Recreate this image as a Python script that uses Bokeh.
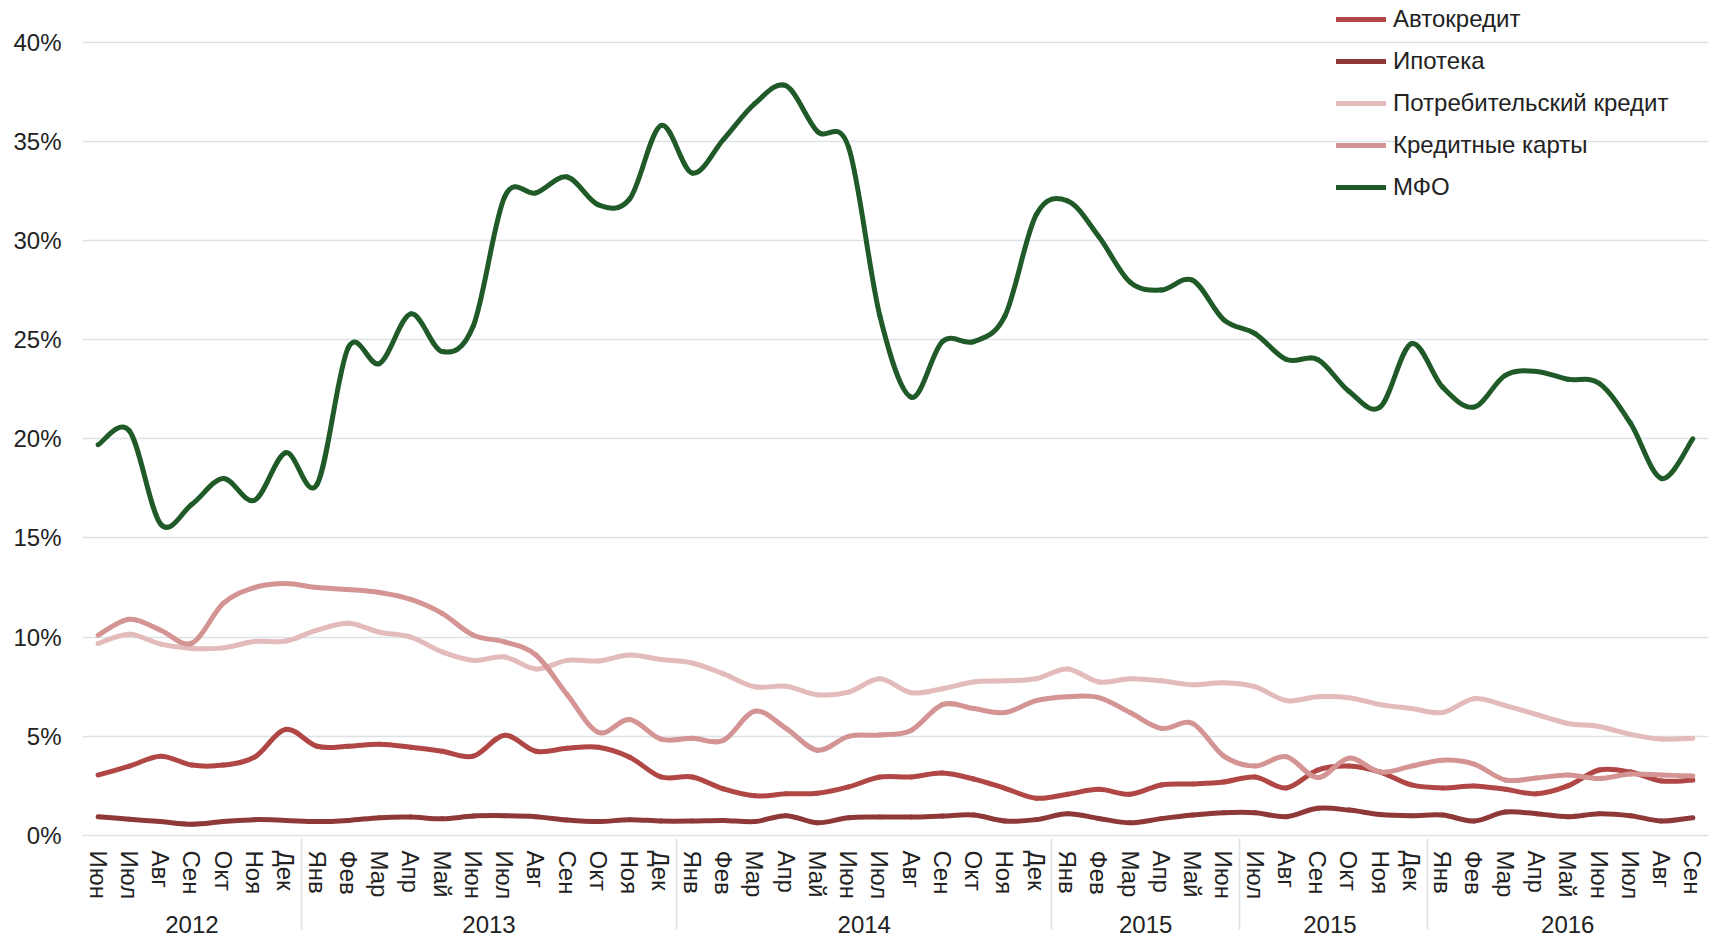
from bokeh.plotting import figure
from bokeh.models import (FactorRange, ColumnDataSource, Legend, LegendItem,
                          FixedTicker, PrintfTickFormatter, Range1d)
from bokeh.embed import file_html
from bokeh.resources import INLINE

# ---------------- data ----------------
year_groups = ["2012", "2013", "2014", "2015", "2015 ", "2016"]
months_by_group = [
    ["Июн", "Июл", "Авг", "Сен", "Окт", "Ноя", "Дек"],
    ["Янв", "Фев", "Мар", "Апр", "Май", "Июн", "Июл", "Авг", "Сен", "Окт", "Ноя", "Дек"],
    ["Янв", "Фев", "Мар", "Апр", "Май", "Июн", "Июл", "Авг", "Сен", "Окт", "Ноя", "Дек"],
    ["Янв", "Фев", "Мар", "Апр", "Май", "Июн"],
    ["Июл", "Авг", "Сен", "Окт", "Ноя", "Дек"],
    ["Янв", "Фев", "Мар", "Апр", "Май", "Июн", "Июл", "Авг", "Сен"],
]
y_ticks = [0, 5, 10, 15, 20, 25, 30, 35, 40]

series_names = ["Автокредит", "Ипотека", "Потребительский кредит", "Кредитные карты", "МФО"]

avtokredit = [3.05, 3.5, 4.0, 3.55, 3.55, 3.95, 5.35, 4.5, 4.5, 4.6,
              4.45, 4.25, 4.0, 5.05, 4.25, 4.4, 4.45, 3.95, 2.95, 2.95,
              2.35, 2.0, 2.1, 2.13, 2.45, 2.95, 2.95, 3.15, 2.85, 2.38,
              1.88, 2.08, 2.33, 2.08, 2.55, 2.6, 2.7, 2.95, 2.4, 3.3,
              3.5, 3.2, 2.55, 2.4, 2.5, 2.33, 2.1, 2.5, 3.3, 3.2,
              2.75, 2.8]
ipoteka = [0.95, 0.82, 0.7, 0.57, 0.7, 0.8, 0.76, 0.7, 0.76, 0.9,
           0.93, 0.84, 0.98, 1.0, 0.95, 0.78, 0.7, 0.8, 0.73, 0.73,
           0.76, 0.7, 1.0, 0.64, 0.9, 0.93, 0.93, 0.98, 1.03, 0.73,
           0.8, 1.1, 0.86, 0.64, 0.85, 1.03, 1.15, 1.15, 0.95, 1.37,
           1.28, 1.06, 1.0, 1.03, 0.73, 1.18, 1.1, 0.95, 1.1, 1.0,
           0.73, 0.9]
potreb = [9.68, 10.15, 9.65, 9.43, 9.46, 9.78, 9.8, 10.35, 10.7, 10.25,
          10.0, 9.26, 8.83, 9.0, 8.4, 8.83, 8.8, 9.1, 8.87, 8.7,
          8.15, 7.5, 7.53, 7.1, 7.23, 7.9, 7.2, 7.4, 7.74, 7.8,
          7.9, 8.4, 7.74, 7.9, 7.8, 7.6, 7.7, 7.5, 6.8, 7.0,
          6.95, 6.6, 6.4, 6.2, 6.9, 6.55, 6.1, 5.65, 5.5, 5.1,
          4.86, 4.9]
karty = [10.1, 10.9, 10.35, 9.7, 11.7, 12.5, 12.7, 12.5, 12.4, 12.25,
         11.9, 11.2, 10.1, 9.76, 9.1, 7.1, 5.2, 5.85, 4.86, 4.9,
         4.8, 6.27, 5.4, 4.3, 5.0, 5.07, 5.3, 6.6, 6.4, 6.2,
         6.8, 7.0, 6.95, 6.2, 5.4, 5.65, 4.0, 3.5, 3.97, 2.92,
         3.9, 3.2, 3.5, 3.8, 3.6, 2.8, 2.9, 3.05, 2.87, 3.1,
         3.05, 3.0]
mfo = [19.7, 20.4, 15.7, 16.7, 18.0, 16.9, 19.3, 17.7, 24.6, 23.8,
       26.3, 24.4, 25.7, 32.2, 32.4, 33.2, 31.8, 32.1, 35.8, 33.4,
       35.1, 36.9, 37.8, 35.5, 34.7, 26.2, 22.1, 24.9, 24.9, 26.2,
       31.3, 32.0, 30.2, 27.9, 27.5, 28.0, 26.0, 25.3, 24.0, 24.0,
       22.4, 21.6, 24.8, 22.6, 21.6, 23.2, 23.4, 23.0, 22.8, 20.8,
       18.0, 20.0]

# ---------------- styles ----------------
colors = ["#B04745", "#8F3838", "#E3BBBB", "#D49494", "#1F5A28"]
FONT = "Liberation Sans"
TXT = "#222222"
GRID = "#DEE2E7"
FS = "24px"

factors = [(g, m) for g, ms in zip(year_groups, months_by_group) for m in ms]

W, H = 1716, 944
BOTTOM_BORDER = 109
FRAME_BOTTOM = H - BOTTOM_BORDER
p = figure(width=W, height=H, output_backend="svg", toolbar_location=None,
           x_range=FactorRange(factors=factors, factor_padding=0, group_padding=0,
                               subgroup_padding=0, range_padding=0),
           y_range=Range1d(0, 42.1),
           min_border_left=82, min_border_right=8, min_border_top=0,
           min_border_bottom=BOTTOM_BORDER)
p.outline_line_color = None
p.background_fill_color = "white"

p.xgrid.grid_line_color = None
p.ygrid.grid_line_color = GRID
p.ygrid.grid_line_width = 1.6

p.yaxis.ticker = FixedTicker(ticks=y_ticks)
p.yaxis.formatter = PrintfTickFormatter(format="%d%%")
p.yaxis.axis_line_color = None
p.yaxis.major_tick_line_color = None
p.yaxis.minor_tick_line_color = None
p.yaxis.major_label_standoff = 15
p.yaxis.major_label_text_font = FONT
p.yaxis.major_label_text_font_size = FS
p.yaxis.major_label_text_color = TXT

p.xaxis.axis_line_color = GRID
p.xaxis.axis_line_width = 1.6
p.xaxis.major_tick_line_color = None
p.xaxis.major_label_orientation = "vertical"
p.xaxis.major_label_standoff = 9
p.xaxis.major_label_text_font = FONT
p.xaxis.major_label_text_font_size = FS
p.xaxis.major_label_text_color = TXT
p.xaxis.group_text_font = FONT
p.xaxis.group_text_font_size = FS
p.xaxis.group_text_font_style = "normal"
p.xaxis.group_text_color = TXT
p.xaxis.separator_line_color = GRID
p.xaxis.separator_line_width = 1.6


def smooth_source(vals):
    n = len(vals)
    tang = []
    for i in range(n):
        a = max(i - 1, 0)
        b = min(i + 1, n - 1)
        tang.append(((b - a) / 2.0, (vals[b] - vals[a]) / 2.0))
    d = dict(x0=[], x1=[], cx0=[], cx1=[], y0=[], y1=[], cy0=[], cy1=[])
    for i in range(n - 1):
        f0, f1 = factors[i], factors[i + 1]
        d["x0"].append(f0)
        d["x1"].append(f1)
        d["cx0"].append((f0[0], f0[1], tang[i][0] / 3.0))
        d["cx1"].append((f1[0], f1[1], -tang[i + 1][0] / 3.0))
        d["y0"].append(vals[i])
        d["y1"].append(vals[i + 1])
        d["cy0"].append(vals[i] + tang[i][1] / 3.0)
        d["cy1"].append(vals[i + 1] - tang[i + 1][1] / 3.0)
    return ColumnDataSource(d)


items = []
for name, vals, col in zip(series_names, [avtokredit, ipoteka, potreb, karty, mfo], colors):
    r = p.bezier(x0="x0", y0="y0", x1="x1", y1="y1", cx0="cx0", cy0="cy0",
                 cx1="cx1", cy1="cy1", source=smooth_source(vals),
                 line_color=col, line_width=5, line_cap="round")
    items.append(LegendItem(label=name, renderers=[r]))

legend = Legend(items=items, location=(1254, FRAME_BOTTOM - 201))
legend.label_text_font = FONT
legend.label_text_font_size = FS
legend.label_text_color = TXT
legend.glyph_width = 50
legend.glyph_height = 28
legend.label_height = 28
legend.spacing = 14
legend.padding = 0
legend.margin = 0
legend.label_standoff = 7
legend.background_fill_alpha = 0
legend.border_line_alpha = 0
p.add_layout(legend)

open("out.html", "w").write(file_html(p, INLINE))
